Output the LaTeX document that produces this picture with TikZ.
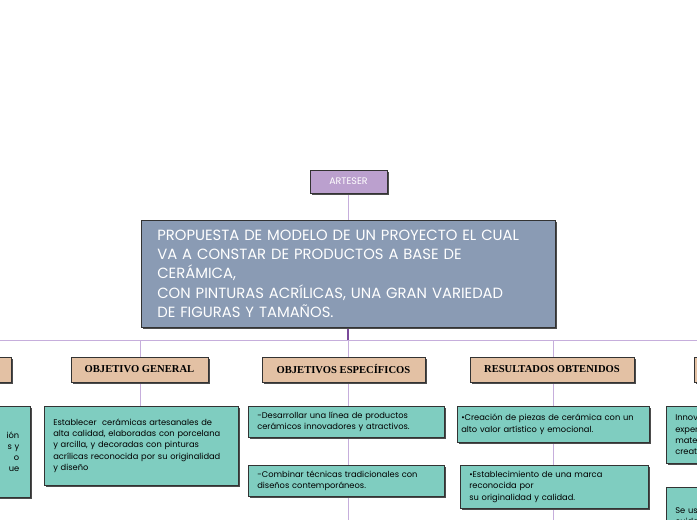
\documentclass[tikz,border=0pt]{standalone}
\usepackage{fontspec}
\usetikzlibrary{shadows}
\setmainfont{Poppins}
\newfontfamily\mainf{Poppins}
\newfontfamily\hdrf{Liberation Serif}
\definecolor{teal1}{HTML}{7FCDC0}
\definecolor{tan1}{HTML}{E3C1A4}
\definecolor{purp}{HTML}{BBA0CE}
\definecolor{slate}{HTML}{8A9BB4}
\definecolor{lin}{HTML}{C6AEDC}
\definecolor{lind}{HTML}{7A4A9A}
\begin{document}
\begin{tikzpicture}[x=1pt,y=-1pt,
 sh/.style={draw=black!80,line width=0.6pt,drop shadow={shadow xshift=2pt,shadow yshift=-2pt,fill=black!70,opacity=1}},
 hdr/.style={sh,fill=tan1,minimum height=25pt,font=\hdrf\bfseries\fontsize{10.6}{11}\selectfont},
 tbox/.style={sh,fill=teal1,anchor=north west,align=left,inner xsep=9pt,inner ysep=5pt,font=\fontsize{8.3}{11.3}\selectfont},
 ln/.style={lin,line width=1pt}]
\useasboundingbox (0,0) rectangle (697,520);
\clip (0,0) rectangle (697,520);
% lines
\draw[ln] (0,340) -- (697,340);
\draw[ln] (348,193) -- (348,222);
\draw[lind,line width=1.2pt] (348,327) -- (348,340);
\draw[ln] (140,340) -- (140,406);
\draw[ln] (348,340) -- (348,520);
\draw[ln] (553,340) -- (553,520);
% top
\node[sh,fill=purp,minimum width=77pt,minimum height=23pt,text=white,font=\fontsize{9.5}{10}\selectfont] (art) at (348.5,181.5) {ARTESER};
\node[sh,fill=slate,minimum width=414pt,minimum height=107pt,text=white,align=left,anchor=north west,inner xsep=15pt,text width=382pt,font=\mainf\fontsize{14.8}{19.2}\selectfont] (main) at (141,220)
{PROPUESTA DE MODELO DE UN PROYECTO EL CUAL\\VA A CONSTAR DE PRODUCTOS A BASE DE\\CERÁMICA,\\CON PINTURAS ACRÍLICAS, UNA GRAN VARIEDAD\\DE FIGURAS Y TAMAÑOS.};
% headers
\node[hdr,minimum width=100pt] (hl) at (-39,369.5) {};
\node[hdr,minimum width=137pt] (og) at (139.5,369.5) {OBJETIVO GENERAL};
\node[hdr,minimum width=163pt] (oe) at (343.5,369.5) {OBJETIVOS ESPECÍFICOS};
\node[hdr,minimum width=164pt] (ro) at (552,369.5) {RESULTADOS OBTENIDOS};
\node[hdr,minimum width=100pt] (hr) at (744,369.5) {};
% content
\node[tbox,minimum width=100pt,minimum height=91pt,text width=78pt,align=right,inner xsep=11pt] (cl) at (-70,406) {ión\\s y\\o\\ue};
\node[tbox,minimum width=189pt,minimum height=79pt,text width=176pt] (c1) at (44,406) {Establecer\ \ cerámicas artesanales de\\alta calidad, elaboradas con porcelana\\y arcilla, y decoradas con pinturas\\acrílicas reconocida por su originalidad\\y diseño};
\node[tbox,minimum width=192pt,minimum height=31pt,text width=178pt] (c2) at (248,406) {-Desarrollar una línea de productos\\cerámicos innovadores y atractivos.};
\node[tbox,minimum width=192pt,minimum height=31pt,text width=178pt] (c3) at (248,465) {-Combinar técnicas tradicionales con\\diseños contemporáneos.};
\node[tbox,minimum width=190pt,minimum height=36pt,text width=184pt,inner xsep=4pt] (c4) at (457,406) {•Creación de piezas de cerámica con un\\alto valor artístico y emocional.};
\node[tbox,minimum width=184pt,minimum height=43pt,text width=170pt] (c5) at (460,465) {•Establecimiento de una marca\\reconocida por\\su originalidad y calidad.};
\node[tbox,minimum width=100pt,minimum height=57pt,text width=82pt] (c6) at (666,406) {Innov\\exper\\mate\\creat};
\node[tbox,minimum width=100pt,minimum height=57pt,text width=82pt,inner xsep=4pt] (c7) at (666,487) {Se us\\cuida};
\end{tikzpicture}
\end{document}
